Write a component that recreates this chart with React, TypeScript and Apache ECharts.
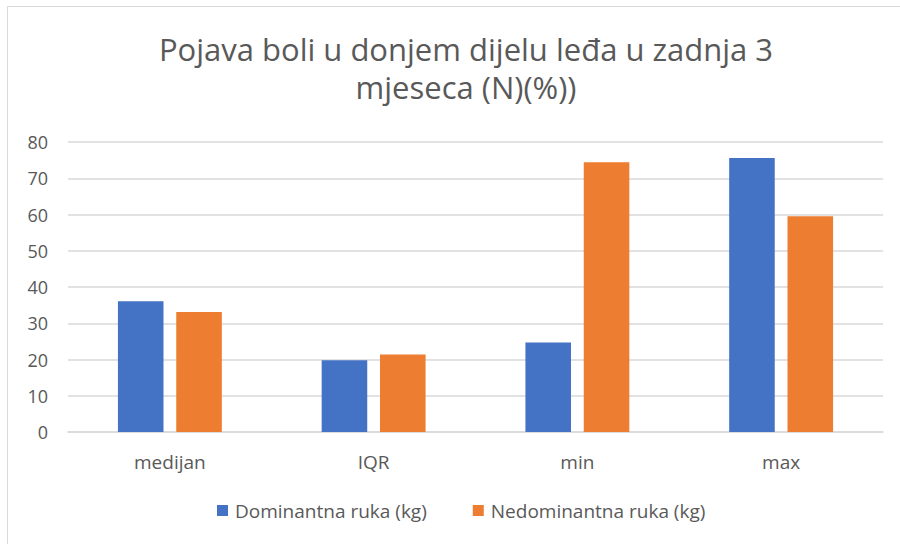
import React, { useEffect, useRef } from "react";
import * as echarts from "echarts";

const titleLines = ["Pojava boli u donjem dijelu leđa u zadnja 3", "mjeseca (N)(%))"];
const categories = ["medijan", "IQR", "min", "max"];
const seriesNames = ["Dominantna ruka (kg)", "Nedominantna ruka (kg)"];
const dominant = [36.1, 19.8, 24.7, 75.6];
const nondominant = [33.1, 21.4, 74.4, 59.5];
const colors = ["#4472C4", "#ED7D31"];

const FONT = "Open Sans";

export default function App() {
  const ref = useRef<HTMLDivElement>(null);
  useEffect(() => {
    if (!ref.current) return;
    const chart = echarts.init(ref.current, undefined, { renderer: "svg" });
    chart.setOption({
      animation: false,
      backgroundColor: "#ffffff",
      textStyle: { fontFamily: FONT },
      title: {
        text: titleLines.join("\n"),
        left: 466,
        top: 30,
        padding: 0,
        textAlign: "center",
        textStyle: {
          fontFamily: FONT,
          fontSize: 31,
          fontWeight: "normal",
          color: "#595959",
          lineHeight: 38,
        },
      },
      graphic: [
        {
          type: "rect",
          shape: { x: 7.5, y: 6.5, width: 1000, height: 700 },
          style: { fill: "none", stroke: "#d9d9d9", lineWidth: 1 },
          silent: true,
          z: -1,
        },
      ],
      legend: {
        top: 501,
        left: 217,
        padding: 0,
        itemWidth: 11,
        itemHeight: 11,
        itemGap: 46,
        icon: "rect",
        textStyle: { fontFamily: FONT, fontSize: 19, color: "#595959", padding: [0, 0, 0, 2] },
        data: seriesNames,
      },
      grid: { left: 68, right: 17, top: 142, bottom: 112, containLabel: false },
      xAxis: {
        type: "category",
        data: categories,
        axisLine: { lineStyle: { color: "#d9d9d9", width: 1.5 } },
        axisTick: { show: false },
        axisLabel: { fontFamily: FONT, fontSize: 19, color: "#595959", margin: 20 },
      },
      yAxis: {
        type: "value",
        min: 0,
        max: 80,
        interval: 10,
        axisLine: { show: false },
        axisTick: { show: false },
        splitLine: { lineStyle: { color: "#d9d9d9", width: 1.5 } },
        axisLabel: { fontFamily: FONT, fontSize: 18, color: "#595959", margin: 20 },
      },
      series: [
        {
          name: seriesNames[0],
          type: "bar",
          data: dominant,
          itemStyle: { color: colors[0] },
          barCategoryGap: "49%",
          barGap: "28%",
        },
        {
          name: seriesNames[1],
          type: "bar",
          data: nondominant,
          itemStyle: { color: colors[1] },
        },
      ],
    });
    return () => chart.dispose();
  }, []);
  return (
    <div
      ref={ref}
      style={{ position: "fixed", left: 0, top: 0, width: 900, height: 544 }}
    />
  );
}
